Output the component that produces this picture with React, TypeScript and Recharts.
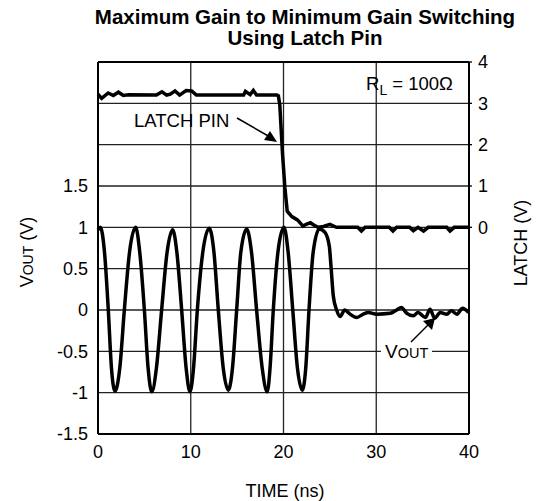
import React from 'react'
import { ComposedChart, Line, XAxis, YAxis, CartesianGrid, ReferenceLine } from 'recharts'

// VOUT trace (left axis, volts) vs time (ns)
const voutTime = [
  0, 0.25, 0.7, 1.11, 1.45, 1.83, 2.35, 2.84, 3.4, 4.06,
  4.5, 5.0, 5.4, 5.8, 6.3, 6.86, 7.45, 8.05,
  8.5, 9.02, 9.5, 9.92, 10.3, 10.71, 11.3, 12.0,
  12.5, 12.97, 13.5, 14.05, 14.5, 14.95, 15.4, 16.03,
  16.55, 17.1, 17.7, 18.25, 18.55, 18.9, 19.4, 20.05,
  20.5, 21.0, 21.5, 22.03, 22.4, 22.75, 23.2, 23.86,
  24.47, 24.94, 25.12, 25.37, 25.73, 26.1, 26.6, 27.17, 27.9, 28.6, 29.15,
  30.05, 31.5, 32.2, 32.7, 33.3, 34.0, 34.5, 35.3, 35.8, 36.3, 36.9, 37.6, 38.1, 38.7, 39.3, 39.95,
]
const voutValue = [
  0.97, 1.0, 0.7, 0, -0.7, -0.98, -0.7, 0, 0.7, 1.0,
  0.7, 0, -0.7, -0.99, -0.7, 0, 0.7, 0.97,
  0.7, 0, -0.7, -0.99, -0.7, 0, 0.7, 0.99,
  0.7, 0, -0.7, -0.97, -0.7, 0, 0.7, 0.98,
  0.7, 0, -0.7, -0.99, -0.7, 0, 0.7, 1.0,
  0.7, 0, -0.7, -0.97, -0.7, 0, 0.7, 0.98,
  0.94, 0.77, 0.53, 0.17, 0.0, -0.08, 0.0, -0.05, -0.09, -0.05, -0.03,
  -0.05, -0.04, 0.0, 0.03, -0.04, -0.07, -0.03, -0.09, 0.01, -0.1, -0.03, -0.05, -0.01, -0.05, 0.02, -0.03,
]

// LATCH trace (right axis, volts)
const latchTime = [
  0, 0.4, 1.1, 1.65, 2.2, 2.73, 3.3, 6.3, 6.9, 7.4, 7.8, 8.3, 8.8, 9.5, 10.1, 10.6,
  15.7, 15.9, 16.4, 16.75, 17.1, 19.3, 19.45, 19.6, 19.9, 20.15, 20.4, 20.9, 21.5,
  22.1, 22.5, 22.9, 23.3, 23.75, 24.3, 25.0, 25.7, 28.0, 28.4, 28.8, 31.4, 31.8, 32.2,
  33.6, 34.0, 34.5, 35.1, 35.6, 37.6, 37.95, 38.4, 40,
]
const latchValue = [
  3.22, 3.12, 3.25, 3.19, 3.27, 3.19, 3.21, 3.2, 3.28, 3.2, 3.22, 3.3, 3.2, 3.31, 3.3, 3.2,
  3.2, 3.29, 3.21, 3.31, 3.2, 3.2, 3.18, 2.96, 1.76, 0.96, 0.39, 0.26, 0.18,
  0.03, 0.08, 0.11, 0.05, 0.0, 0.02, 0.07, 0.0, 0.0, -0.09, 0.0, 0.0, -0.09, 0.0,
  0.0, -0.08, 0.0, -0.09, 0.0, 0.0, -0.09, 0.0, 0.0,
]

const timeTicks = [0, 10, 20, 30, 40]
const voutGrid = [-1.5, -1, -0.5, 0, 0.5, 1, 1.5, 2, 2.5, 3]
const voutLabels = [-1.5, -1, -0.5, 0, 0.5, 1, 1.5]
const latchTicks = [0, 1, 2, 3, 4]

const voutData = voutTime.map((t, i) => ({ t, v: voutValue[i] }))
const latchData = latchTime.map((t, i) => ({ t, l: latchValue[i] }))

const FONT = '"Liberation Sans", Arial, Helvetica, sans-serif'
const tickStyle = { fontSize: 18, fill: '#000', fontFamily: FONT }

export default function App() {
  return (
    <div style={{ position: 'absolute', left: 0, top: 0, width: 536, height: 501, background: '#fff', fontFamily: FONT }}>
      <ComposedChart width={536} height={501} margin={{ top: 62, right: 0, bottom: 0, left: 0 }}>
        <CartesianGrid yAxisId="left" stroke="#222" strokeWidth={1.3} horizontalValues={voutGrid} verticalValues={timeTicks} />
        <XAxis
          type="number"
          dataKey="t"
          domain={[0, 40]}
          ticks={timeTicks}
          height={67}
          tick={tickStyle}
          tickSize={3}
          tickMargin={8}
          axisLine={{ stroke: '#000', strokeWidth: 2 }}
          tickLine={false}
        />
        <YAxis
          yAxisId="left"
          type="number"
          domain={[-1.5, 3]}
          ticks={voutGrid}
          tickFormatter={(v: number) => (voutLabels.includes(v) ? `${v}` : '')}
          width={98}
          tick={tickStyle}
          tickSize={3}
          tickMargin={7}
          axisLine={{ stroke: '#000', strokeWidth: 2 }}
          tickLine={false}
        />
        <YAxis
          yAxisId="right"
          orientation="right"
          type="number"
          domain={[-5, 4]}
          ticks={latchTicks}
          width={67}
          tick={{ ...tickStyle, textAnchor: 'start' }}
          tickSize={3}
          tickMargin={6}
          axisLine={{ stroke: '#000', strokeWidth: 2 }}
          tickLine={{ stroke: '#000', strokeWidth: 1.3 }}
        />
        <ReferenceLine yAxisId="left" y={3} stroke="#000" strokeWidth={2} />
        <Line
          yAxisId="left"
          data={voutData}
          dataKey="v"
          type="monotone"
          stroke="#000"
          strokeWidth={3.5}
          dot={false}
          isAnimationActive={false}
        />
        <Line
          yAxisId="right"
          data={latchData}
          dataKey="l"
          type="linear"
          stroke="#000"
          strokeWidth={3.5}
          dot={false}
          isAnimationActive={false}
        />
      </ComposedChart>

      {/* title, axis titles, annotations */}
      <svg width={536} height={501} style={{ position: 'absolute', left: 0, top: 0, pointerEvents: 'none' }} fontFamily={FONT}>
        <text x={305} y={24} textAnchor="middle" fontSize={20.5} fontWeight="bold">Maximum Gain to Minimum Gain Switching</text>
        <text x={305} y={45} textAnchor="middle" fontSize={20.5} fontWeight="bold">Using Latch Pin</text>

        <text x={285} y={497} textAnchor="middle" fontSize={18}>TIME (ns)</text>

        <text transform="translate(33,252) rotate(-90)" textAnchor="middle" fontSize={18}>
          V<tspan fontSize={14}>OUT</tspan> (V)
        </text>
        <text transform="translate(527,243) rotate(-90)" textAnchor="middle" fontSize={18}>LATCH (V)</text>

        <text x={366} y={90} fontSize={18.5}>
          R<tspan fontSize={14} dy={5}>L</tspan><tspan dy={-5}> = 100Ω</tspan>
        </text>

        <text x={134} y={127} fontSize={18.5}>LATCH PIN</text>
        <line x1={237} y1={118} x2={270} y2={137} stroke="#000" strokeWidth={1.5} />
        <polygon points="277,142 264,140 270,131" fill="#000" />

        <rect x={381} y={342} width={51} height={20} fill="#fff" />
        <text x={385} y={358} fontSize={19}>
          V<tspan fontSize={14.5}>OUT</tspan>
        </text>
        <line x1={411} y1={342} x2={429} y2={324} stroke="#000" strokeWidth={1.5} />
        <polygon points="435,318 432,330 423,321" fill="#000" />
      </svg>
    </div>
  )
}
